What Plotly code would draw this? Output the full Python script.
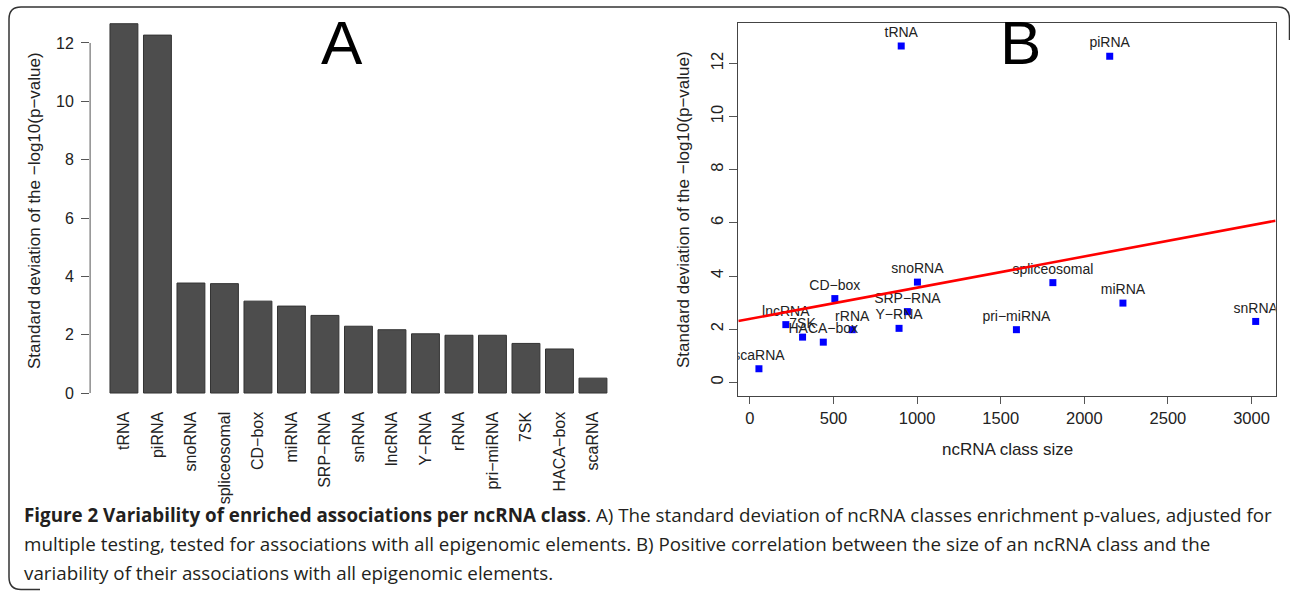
import numpy as np
import plotly.graph_objects as go

W, H = 1290, 591

# ---------------- data ----------------
categories = ["tRNA", "piRNA", "snoRNA", "spliceosomal", "CD−box", "miRNA", "SRP−RNA",
              "snRNA", "lncRNA", "Y−RNA", "rRNA", "pri−miRNA", "7SK", "HACA−box", "scaRNA"]
sd_values = [12.66, 12.27, 3.77, 3.75, 3.15, 2.98, 2.66, 2.29, 2.17, 2.03, 1.98, 1.98, 1.70, 1.51, 0.51]
class_sizes = [905, 2152, 1002, 1812, 508, 2231, 942, 3025, 215, 892, 612, 1594, 315, 439, 54]
y_ticks = [0, 2, 4, 6, 8, 10, 12]
x_ticks_b = [0, 500, 1000, 1500, 2000, 2500, 3000]
y_title = "Standard deviation of the −log10(p−value)"
x_title_b = "ncRNA class size"
caption_lines = [
    "<b>Figure 2 Variability of enriched associations per ncRNA class</b>. A) The standard deviation of ncRNA classes enrichment p-values, adjusted for",
    "multiple testing, tested for associations with all epigenomic elements. B) Positive correlation between the size of an ncRNA class and the",
    "variability of their associations with all epigenomic elements.",
]


def fx(p):
    return p / W


def fy(p):
    return 1 - p / H


FONT = "Liberation Sans, Arial, Helvetica, sans-serif"
TXT = "#222222"

fig = go.Figure()

# Panel A: bar chart
fig.add_trace(go.Bar(
    x=categories, y=sd_values, xaxis="x", yaxis="y",
    marker=dict(color="#4d4d4d", line=dict(color="#333333", width=1)),
    showlegend=False, hoverinfo="x+y",
))

# Panel B: scatter
fig.add_trace(go.Scatter(
    x=class_sizes, y=sd_values, xaxis="x2", yaxis="y2",
    mode="markers+text", text=categories, textposition="top center",
    textfont=dict(family=FONT, size=14, color=TXT),
    marker=dict(symbol="square", size=7, color="#0000ff", line=dict(width=0)),
    showlegend=False, cliponaxis=True,
))

# regression line (least squares fit of the data), drawn across the panel
xr_b = [-69.4, 3144.1]
slope, intercept = np.polyfit(np.array(class_sizes, float), np.array(sd_values, float), 1)
fig.add_trace(go.Scatter(
    x=xr_b, y=[intercept + slope * v for v in xr_b], xaxis="x2", yaxis="y2",
    mode="lines", line=dict(color="#ff0000", width=2.6), showlegend=False,
    hoverinfo="skip", cliponaxis=True,
))

layout = dict(
    width=W, height=H,
    margin=dict(l=0, r=0, t=0, b=0),
    paper_bgcolor="white", plot_bgcolor="white",
    font=dict(family=FONT, color=TXT, size=16),
    bargap=0.167,
    xaxis=dict(domain=[fx(90.1), fx(626.8)], range=[-1.01, 15.01], type="category",
               showgrid=False, zeroline=False, showline=False, ticks="",
               tickangle=-90, tickfont=dict(size=16, color=TXT), anchor="y"),
    yaxis=dict(domain=[fy(407.6), fy(21.1)], range=[-0.5, 12.75],
               tickvals=y_ticks, ticks="outside", ticklen=8, tickcolor="#555555",
               tickwidth=1, showgrid=False, zeroline=False, showline=False,
               tickfont=dict(size=16, color=TXT), anchor="x", ticklabelstandoff=4),
    xaxis2=dict(domain=[fx(738.3), fx(1275.6)], range=xr_b, tickvals=x_ticks_b,
                ticks="outside", ticklen=7, tickcolor="#555555", tickwidth=1,
                showgrid=False, zeroline=False, showline=True, mirror=True,
                linecolor="#444444", linewidth=1.3,
                tickfont=dict(size=16.5, color=TXT), anchor="y2"),
    yaxis2=dict(domain=[fy(396), fy(23.3)], range=[-0.516, 13.51], tickvals=y_ticks,
                ticks="outside", ticklen=8, tickcolor="#555555", tickwidth=1,
                showgrid=False, zeroline=False, showline=True, mirror=True,
                linecolor="#444444", linewidth=1.3, tickangle=-90,
                tickfont=dict(size=16.5, color=TXT), anchor="x2"),
)
fig.update_layout(**layout)

# left axis line spanning only the tick range (R style)
fig.add_shape(type="line", xref="x domain", yref="y", x0=0, x1=0, y0=0, y1=12,
              line=dict(color="#555555", width=1))

annotations = [
    dict(text="A", x=fx(342), y=fy(43), xanchor="center", yanchor="middle",
         font=dict(size=62, color="black", family=FONT)),
    dict(text="B", x=fx(1020), y=fy(43), xanchor="center", yanchor="middle",
         font=dict(size=62, color="black", family=FONT)),
    dict(text=y_title, x=fx(35), y=fy(211), textangle=-90, xanchor="center", yanchor="middle",
         font=dict(size=17, color=TXT, family=FONT)),
    dict(text=y_title, x=fx(684), y=fy(210), textangle=-90, xanchor="center", yanchor="middle",
         font=dict(size=17, color=TXT, family=FONT)),
    dict(text=x_title_b, x=fx(1007), y=fy(450), xanchor="center", yanchor="middle",
         font=dict(size=17, color=TXT, family=FONT)),
]
cap_y = [515, 544, 573]
for line, yy in zip(caption_lines, cap_y):
    annotations.append(dict(text=line, x=fx(22), y=fy(yy), xanchor="left", yanchor="middle",
                            font=dict(size=18.8, color="#231f20", family="Open Sans, sans-serif")))
for a in annotations:
    a.update(xref="paper", yref="paper", showarrow=False)
fig.update_layout(annotations=annotations)

# outer rounded frame (partial, as in the figure page)
pts = [("M", 1289.5, 40), ("L", 1289.5, 19), ("Q", 1289.5, 7, 1277.5, 7), ("L", 21, 7),
       ("Q", 9, 7, 9, 19), ("L", 9, 577), ("Q", 9, 589.5, 21, 589.5), ("L", 40, 589.5)]
path = ""
for p in pts:
    if p[0] == "Q":
        path += f"Q{fx(p[1])},{fy(p[2])} {fx(p[3])},{fy(p[4])} "
    else:
        path += f"{p[0]}{fx(p[1])},{fy(p[2])} "
fig.add_shape(type="path", xref="paper", yref="paper", path=path.strip(),
              line=dict(color="#333333", width=1.5))

fig.write_html("out.html", config={"displayModeBar": False},
               post_script="document.body.style.margin='0px';")
